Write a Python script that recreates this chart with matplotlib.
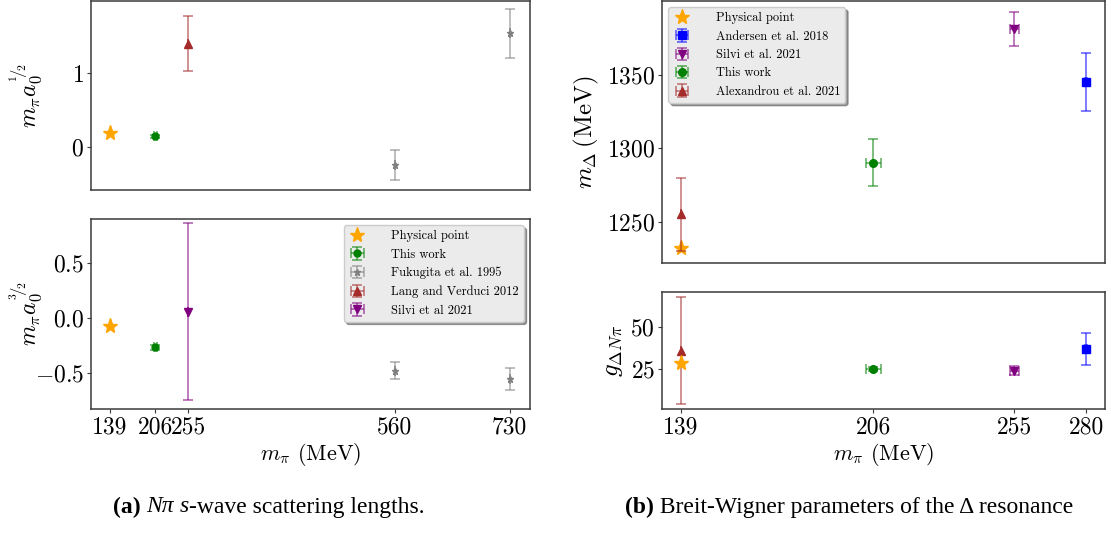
import matplotlib
matplotlib.use("Agg")
import matplotlib.pyplot as plt

plt.rcParams['font.family'] = 'serif'
plt.rcParams['font.serif'] = ['cmr10']
plt.rcParams['mathtext.fontset'] = 'cm'
plt.rcParams['axes.formatter.use_mathtext'] = True
plt.rcParams['axes.unicode_minus'] = True

# ---- (a) N pi s-wave scattering lengths ----
phys_mpi = 139
phys_a12 = 0.18
phys_a32 = -0.077

tw_mpi = [206]
tw_mpi_err = [2.0]
tw_a12 = [0.14]
tw_a12_err = [0.02]
tw_a32 = [-0.27]
tw_a32_err = [0.02]

fuk_mpi = [560, 730]
fuk_a12 = [-0.25, 1.54]
fuk_a12_err = [0.21, 0.33]
fuk_a32 = [-0.48, -0.555]
fuk_a32_err = [0.08, 0.10]

lv_mpi = [255]
lv_a12 = [1.40]
lv_a12_err = [0.37]

silvi_a_mpi = [255]
silvi_a32 = [0.055]
silvi_a32_err = [0.805]

left_ticks = [139, 206, 255, 560, 730]

# ---- (b) Breit-Wigner parameters of the Delta ----
phys_mdelta = 1232
phys_g = 28.5

and_mpi = [280]
and_mpi_err = [0.5]
and_m = [1345]
and_m_err = [20]
and_g = [37]
and_g_err = [9.3]

silvi_mpi = [255]
silvi_mpi_err = [1.5]
silvi_m = [1381]
silvi_m_err = [11.5]
silvi_g = [24.2]
silvi_g_err = [2.5]

twb_mpi = [206]
twb_mpi_err = [2.5]
twb_m = [1290]
twb_m_err = [16]
twb_g = [25]
twb_g_err = [1.0]

alex_mpi = [139]
alex_mpi_err = [0.0]
alex_m = [1255]
alex_m_err = [25]
alex_g = [36]
alex_g_err = [31.4]

right_ticks = [139, 206, 255, 280]


def errpoint(ax, x, y, xe, ye, color, marker, ms, label):
    c = ax.errorbar(x, y, xerr=xe, yerr=ye, fmt=marker, color=color, ms=ms,
                    capsize=3.5, elinewidth=1.1, capthick=1.1, label=label)
    for art in list(c.lines[1]) + list(c.lines[2]):
        art.set_alpha(0.65)
    return c


def style_axes(ax):
    for s in ax.spines.values():
        s.set_color('#3a3a3a')
        s.set_linewidth(1.1)
    ax.tick_params(labelsize=17, length=3, color='#3a3a3a', pad=2)


legend_kw = dict(fontsize=9, frameon=True, shadow=True, fancybox=True,
                 facecolor='#ebebeb', edgecolor='#cccccc', framealpha=1.0,
                 labelspacing=0.5, handletextpad=2.0, handlelength=1.4)

fig = plt.figure(figsize=(11.11, 5.40), dpi=100)

ax1 = fig.add_axes([91 / 1111, (540 - 190) / 540, 439 / 1111, 189 / 540])
ax2 = fig.add_axes([91 / 1111, (540 - 409) / 540, 439 / 1111, 190 / 540])
ax3 = fig.add_axes([662 / 1111, (540 - 263) / 540, 443 / 1111, 262 / 540])
ax4 = fig.add_axes([662 / 1111, (540 - 409) / 540, 443 / 1111, 117 / 540])

# top-left
h_phys, = ax1.plot([phys_mpi], [phys_a12], '*', color='orange', ms=11, label='Physical point')
h_tw = errpoint(ax1, tw_mpi, tw_a12, tw_mpi_err, tw_a12_err, 'green', 'o', 5, 'This work')
h_fuk = errpoint(ax1, fuk_mpi, fuk_a12, [0, 0], fuk_a12_err, 'gray', '*', 5, 'Fukugita et al. 1995')
h_lv = errpoint(ax1, lv_mpi, lv_a12, [0], lv_a12_err, 'brown', '^', 6, 'Lang and Verduci 2012')
ax1.set_xlim(111, 760)
ax1.set_ylim(-0.59, 1.98)
ax1.set_yticks([0, 1])
ax1.set_xticks(left_ticks)
ax1.set_ylabel(r'$m_\pi a_0^{{}^1\!/\!{}_2}$', fontsize=17)
ax1.yaxis.set_label_coords(-0.105, 0.5)
style_axes(ax1)
ax1.tick_params(axis='x', labelbottom=False, length=0)

# bottom-left
ax2.plot([phys_mpi], [phys_a32], '*', color='orange', ms=11)
errpoint(ax2, tw_mpi, tw_a32, tw_mpi_err, tw_a32_err, 'green', 'o', 5, None)
errpoint(ax2, fuk_mpi, fuk_a32, [0, 0], fuk_a32_err, 'gray', '*', 5, None)
h_silvi_a = errpoint(ax2, silvi_a_mpi, silvi_a32, [0], silvi_a32_err, 'purple', 'v', 6, 'Silvi et al 2021')
ax2.set_xlim(111, 760)
ax2.set_ylim(-0.83, 0.90)
ax2.set_yticks([-0.5, 0.0, 0.5])
ax2.set_xticks(left_ticks)
ax2.set_xticklabels([str(t) for t in left_ticks])
ax2.set_xlabel(r'$m_\pi$ (MeV)', fontsize=16, labelpad=2)
ax2.set_ylabel(r'$m_\pi a_0^{{}^3\!/\!{}_2}$', fontsize=17)
ax2.yaxis.set_label_coords(-0.105, 0.5)
style_axes(ax2)
handles = [h_phys, h_tw, h_fuk, h_lv, h_silvi_a]
ax2.legend(handles, [h.get_label() for h in handles], loc='upper right', **legend_kw)

# top-right
ax3.plot([phys_mpi], [phys_mdelta], '*', color='orange', ms=11, label='Physical point')
errpoint(ax3, and_mpi, and_m, and_mpi_err, and_m_err, 'blue', 's', 6, 'Andersen et al. 2018')
errpoint(ax3, silvi_mpi, silvi_m, silvi_mpi_err, silvi_m_err, 'purple', 'v', 6, 'Silvi et al. 2021')
errpoint(ax3, twb_mpi, twb_m, twb_mpi_err, twb_m_err, 'green', 'o', 5.5, 'This work')
errpoint(ax3, alex_mpi, alex_m, alex_mpi_err, alex_m_err, 'brown', '^', 6, 'Alexandrou et al. 2021')
ax3.set_xlim(132.4, 286.6)
ax3.set_ylim(1222, 1400)
ax3.set_yticks([1250, 1300, 1350])
ax3.set_xticks(right_ticks)
ax3.set_ylabel(r'$m_\Delta\,(\mathrm{MeV})$', fontsize=18)
style_axes(ax3)
ax3.tick_params(axis='x', labelbottom=False, length=0)
ax3.legend(loc='upper left', **legend_kw)

# bottom-right
ax4.plot([phys_mpi], [phys_g], '*', color='orange', ms=11, zorder=5)
errpoint(ax4, and_mpi, and_g, and_mpi_err, and_g_err, 'blue', 's', 6, None)
errpoint(ax4, silvi_mpi, silvi_g, silvi_mpi_err, silvi_g_err, 'purple', 'v', 6, None)
errpoint(ax4, twb_mpi, twb_g, twb_mpi_err, twb_g_err, 'green', 'o', 5.5, None)
errpoint(ax4, alex_mpi, alex_g, alex_mpi_err, alex_g_err, 'brown', '^', 6, None)
ax4.set_xlim(132.4, 286.6)
ax4.set_ylim(1.5, 70.5)
ax4.set_yticks([25, 50])
ax4.set_xticks(right_ticks)
ax4.set_xticklabels([str(t) for t in right_ticks])
ax4.set_xlabel(r'$m_\pi$ (MeV)', fontsize=16, labelpad=2)
ax4.set_ylabel(r'$g_{\Delta N\pi}$', fontsize=18)
style_axes(ax4)


# captions made of styled pieces
def caption(pieces, xc, yc, size):
    fig.canvas.draw()
    r = fig.canvas.get_renderer()
    texts = []
    for s, weight, style in pieces:
        t = fig.text(0, yc, s, fontsize=size, family='Liberation Serif',
                     weight=weight, style=style, va='center')
        texts.append(t)
    widths = [t.get_window_extent(r).width for t in texts]
    x = xc * fig.bbox.width - sum(widths) / 2
    for t, w in zip(texts, widths):
        t.set_x(x / fig.bbox.width)
        x += w


caption([('(a)', 'bold', 'normal'), (' ', 'normal', 'normal'),
         ('Nπ', 'normal', 'italic'), (' ', 'normal', 'normal'),
         ('s', 'normal', 'italic'), ('-wave scattering lengths.', 'normal', 'normal')],
        269 / 1111, (540 - 507) / 540, 17)
caption([('(b)', 'bold', 'normal'),
         (' Breit-Wigner parameters of the Δ resonance', 'normal', 'normal')],
        849 / 1111, (540 - 507) / 540, 17)

fig.savefig('out.png', dpi=100)
